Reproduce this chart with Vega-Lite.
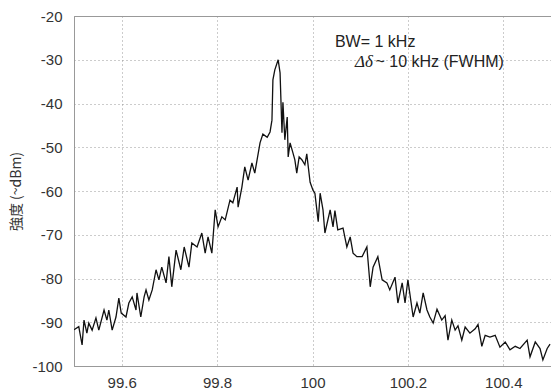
{
  "$schema": "https://vega.github.io/schema/vega-lite/v6.json",
  "width": 477,
  "height": 350,
  "autosize": {"type": "none"},
  "padding": {"left": 74, "top": 16, "right": 0, "bottom": 25},
  "background": "white",
  "config": {
    "view": {"stroke": "#999", "strokeWidth": 1},
    "axis": {
      "labelFont": "Liberation Sans",
      "labelFontSize": 15,
      "labelColor": "#333",
      "domainColor": "#999",
      "grid": true,
      "gridColor": "#999",
      "gridDash": [1, 3],
      "gridWidth": 1,
      "ticks": false
    }
  },
  "layer": [
    {
      "data": {
        "values": [
          {"f": 99.500, "p": -91.7}, {"f": 99.510, "p": -91.0}, {"f": 99.517, "p": -95.2}, {"f": 99.521, "p": -89.5},
          {"f": 99.527, "p": -92.5}, {"f": 99.531, "p": -90.2}, {"f": 99.538, "p": -91.8}, {"f": 99.546, "p": -89.0},
          {"f": 99.552, "p": -91.8}, {"f": 99.563, "p": -87.2}, {"f": 99.569, "p": -89.5}, {"f": 99.573, "p": -87.2},
          {"f": 99.580, "p": -91.8}, {"f": 99.588, "p": -88.8}, {"f": 99.594, "p": -84.5}, {"f": 99.599, "p": -87.9},
          {"f": 99.609, "p": -88.8}, {"f": 99.615, "p": -85.6}, {"f": 99.622, "p": -84.2}, {"f": 99.630, "p": -87.2},
          {"f": 99.632, "p": -83.3}, {"f": 99.640, "p": -88.8}, {"f": 99.647, "p": -84.2}, {"f": 99.651, "p": -82.6},
          {"f": 99.657, "p": -84.9}, {"f": 99.664, "p": -82.6}, {"f": 99.672, "p": -78.0}, {"f": 99.678, "p": -80.3},
          {"f": 99.684, "p": -77.4}, {"f": 99.693, "p": -81.0}, {"f": 99.699, "p": -75.0}, {"f": 99.705, "p": -81.9},
          {"f": 99.714, "p": -73.5}, {"f": 99.724, "p": -78.0}, {"f": 99.731, "p": -72.8}, {"f": 99.741, "p": -77.4},
          {"f": 99.747, "p": -71.9}, {"f": 99.758, "p": -72.8}, {"f": 99.768, "p": -69.6}, {"f": 99.775, "p": -74.2},
          {"f": 99.781, "p": -70.5}, {"f": 99.789, "p": -74.2}, {"f": 99.796, "p": -64.3}, {"f": 99.802, "p": -68.2},
          {"f": 99.810, "p": -65.9}, {"f": 99.817, "p": -66.6}, {"f": 99.827, "p": -62.1}, {"f": 99.833, "p": -62.7},
          {"f": 99.842, "p": -59.1}, {"f": 99.844, "p": -63.7}, {"f": 99.852, "p": -59.1}, {"f": 99.858, "p": -54.5},
          {"f": 99.865, "p": -57.5}, {"f": 99.873, "p": -53.6}, {"f": 99.879, "p": -55.9}, {"f": 99.890, "p": -49.0},
          {"f": 99.896, "p": -47.0}, {"f": 99.905, "p": -47.7}, {"f": 99.911, "p": -46.5}, {"f": 99.915, "p": -43.8},
          {"f": 99.917, "p": -34.6}, {"f": 99.921, "p": -32.3}, {"f": 99.928, "p": -30.0}, {"f": 99.932, "p": -33.0},
          {"f": 99.936, "p": -46.7}, {"f": 99.938, "p": -39.7}, {"f": 99.942, "p": -48.3}, {"f": 99.947, "p": -43.1},
          {"f": 99.949, "p": -52.2}, {"f": 99.953, "p": -49.0}, {"f": 99.959, "p": -51.3}, {"f": 99.963, "p": -52.9},
          {"f": 99.967, "p": -55.9}, {"f": 99.972, "p": -52.2}, {"f": 99.978, "p": -52.9}, {"f": 99.984, "p": -54.0},
          {"f": 99.988, "p": -51.5}, {"f": 99.995, "p": -58.0}, {"f": 100.001, "p": -59.8}, {"f": 100.005, "p": -60.5},
          {"f": 100.012, "p": -67.0}, {"f": 100.016, "p": -60.5}, {"f": 100.022, "p": -64.3}, {"f": 100.026, "p": -69.6},
          {"f": 100.037, "p": -64.3}, {"f": 100.043, "p": -68.2}, {"f": 100.047, "p": -64.5}, {"f": 100.053, "p": -68.9},
          {"f": 100.064, "p": -68.5}, {"f": 100.072, "p": -72.8}, {"f": 100.079, "p": -70.5}, {"f": 100.085, "p": -74.2},
          {"f": 100.093, "p": -75.0}, {"f": 100.104, "p": -75.0}, {"f": 100.114, "p": -72.8}, {"f": 100.121, "p": -81.9},
          {"f": 100.127, "p": -77.4}, {"f": 100.137, "p": -75.0}, {"f": 100.146, "p": -80.3}, {"f": 100.156, "p": -81.0},
          {"f": 100.162, "p": -82.6}, {"f": 100.173, "p": -79.7}, {"f": 100.179, "p": -85.6}, {"f": 100.188, "p": -81.0},
          {"f": 100.194, "p": -85.6}, {"f": 100.200, "p": -80.3}, {"f": 100.211, "p": -88.8}, {"f": 100.219, "p": -85.6},
          {"f": 100.225, "p": -87.9}, {"f": 100.232, "p": -83.3}, {"f": 100.240, "p": -87.2}, {"f": 100.246, "p": -88.8},
          {"f": 100.253, "p": -90.2}, {"f": 100.261, "p": -87.0}, {"f": 100.271, "p": -89.5}, {"f": 100.278, "p": -88.5},
          {"f": 100.284, "p": -94.1}, {"f": 100.292, "p": -89.5}, {"f": 100.299, "p": -91.8}, {"f": 100.305, "p": -90.8},
          {"f": 100.313, "p": -94.1}, {"f": 100.320, "p": -91.1}, {"f": 100.330, "p": -92.5}, {"f": 100.341, "p": -91.5},
          {"f": 100.347, "p": -90.5}, {"f": 100.355, "p": -95.5}, {"f": 100.362, "p": -93.0}, {"f": 100.372, "p": -93.4},
          {"f": 100.383, "p": -93.0}, {"f": 100.393, "p": -95.7}, {"f": 100.404, "p": -94.5}, {"f": 100.414, "p": -96.3},
          {"f": 100.425, "p": -95.5}, {"f": 100.435, "p": -96.0}, {"f": 100.450, "p": -94.1}, {"f": 100.456, "p": -97.9},
          {"f": 100.467, "p": -94.5}, {"f": 100.477, "p": -96.0}, {"f": 100.483, "p": -98.6}, {"f": 100.492, "p": -96.0},
          {"f": 100.498, "p": -95.0}
        ]
      },
      "mark": {"type": "line", "color": "#111", "strokeWidth": 1.3, "clip": true},
      "encoding": {
        "x": {
          "field": "f", "type": "quantitative",
          "scale": {"domain": [99.5, 100.5], "nice": false, "zero": false},
          "axis": {"title": null, "values": [99.6, 99.8, 100, 100.2, 100.4], "labelPadding": 9, "labelFlush": false, "format": ".1~f"}
        },
        "y": {
          "field": "p", "type": "quantitative",
          "scale": {"domain": [-100, -20], "nice": false, "zero": false},
          "axis": {
            "title": "強度 (~dBm)", "titleFont": "Noto Sans CJK JP", "titleFontSize": 14, "titleFontWeight": "normal",
            "titleColor": "#333", "titlePadding": 8,
            "values": [-100, -90, -80, -70, -60, -50, -40, -30, -20], "labelPadding": 12, "labelFlush": false,
            "labelExpr": "'' + datum.value"
          }
        }
      }
    },
    {
      "data": {"values": [{"f": 100.047, "p": -27.1, "t": "BW= 1 kHz"}, {"f": 100.132, "p": -31.7, "t": "~ 10 kHz (FWHM)"}]},
      "mark": {"type": "text", "align": "left", "baseline": "alphabetic", "font": "Liberation Sans", "fontSize": 16, "color": "#222"},
      "encoding": {
        "x": {"field": "f", "type": "quantitative"},
        "y": {"field": "p", "type": "quantitative"},
        "text": {"field": "t"}
      }
    },
    {
      "data": {"values": [{"f": 100.089, "p": -31.7, "t": "Δδ"}]},
      "mark": {"type": "text", "align": "left", "baseline": "alphabetic", "font": "Liberation Serif", "fontStyle": "italic", "fontSize": 17, "color": "#222"},
      "encoding": {
        "x": {"field": "f", "type": "quantitative"},
        "y": {"field": "p", "type": "quantitative"},
        "text": {"field": "t"}
      }
    }
  ]
}
